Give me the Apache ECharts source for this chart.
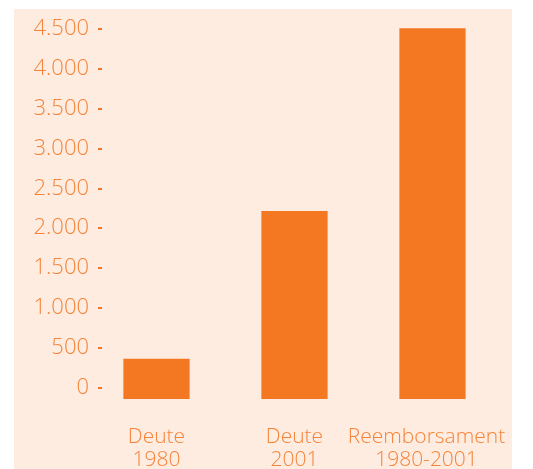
<!DOCTYPE html>
<html>
<head>
<meta charset="utf-8">
<script src="https://cdn.jsdelivr.net/npm/echarts@6/dist/echarts.min.js"></script>
<style>
  html, body { margin: 0; padding: 0; background: #ffffff; }
  #chart { width: 533px; height: 469px; }
</style>
</head>
<body>
<div id="chart"></div>
<script>
// data
var categories = ["Deute\n1980", "Deute\n2001", "Reemborsament\n1980-2001"];
var values = [360, 2215, 4510];
var tickValues = [0, 500, 1000, 1500, 2000, 2500, 3000, 3500, 4000, 4500];

var orange = "#f47721";
var textOrange = "#f5843a";

var myChart = echarts.init(document.getElementById("chart"));

// last label sits a bit left of its bar in the original
var xData = categories.map(function (c, i) {
  if (i === categories.length - 1) {
    return { value: c, textStyle: { padding: [0, 12, 0, 0] } };
  }
  return c;
});

var option = {
  backgroundColor: "#ffffff",
  graphic: [
    {
      type: "rect",
      z: -10,
      shape: { x: 14, y: 9, width: 498, height: 470 },
      style: { fill: "#feece0" },
    },
  ],
  grid: {
    left: 87.5,
    width: 414,
    top: 27.4,
    bottom: 70,
    outerBoundsMode: "none",
  },
  xAxis: {
    type: "category",
    data: xData,
    axisLine: { show: false },
    axisTick: { show: false },
    axisLabel: {
      interval: 0,
      color: textOrange,
      fontFamily: "Open Sans",
      fontWeight: 300,
      fontSize: 21,
      lineHeight: 23,
      margin: 27,
    },
  },
  yAxis: {
    type: "value",
    min: -145,
    max: 4520,
    startValue: -145,
    offset: -14.5,
    splitLine: { show: false },
    axisLine: { show: false },
    axisTick: {
      show: true,
      length: 4,
      customValues: tickValues,
      lineStyle: { color: orange, width: 2 },
    },
    axisLabel: {
      customValues: tickValues,
      color: textOrange,
      fontFamily: "Open Sans",
      fontWeight: 300,
      fontSize: 22,
      margin: 13,
      formatter: function (v) {
        return String(v).replace(/\B(?=(\d{3})+(?!\d))/g, ".");
      },
    },
  },
  series: [
    {
      type: "bar",
      data: values,
      barWidth: "48%",
      itemStyle: { color: orange },
      silent: true,
    },
  ],
};

myChart.setOption(option);
</script>
</body>
</html>
